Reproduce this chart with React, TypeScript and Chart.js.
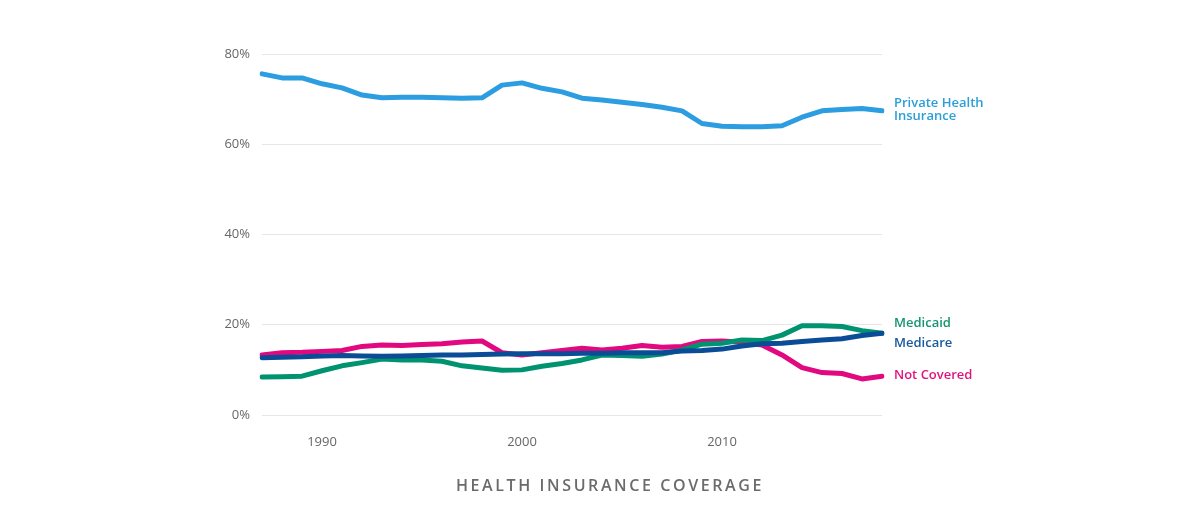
import React, { useEffect, useRef } from "react";
import { Chart, registerables } from "chart.js";

Chart.register(...registerables);

const years: string[] = [];
for (let y = 1987; y <= 2018; y++) years.push(String(y));

const privateHealth = [75.6, 74.7, 74.7, 73.4, 72.5, 70.9, 70.3, 70.4, 70.4, 70.3, 70.2, 70.3, 73.1, 73.6, 72.4, 71.6, 70.2, 69.8, 69.3, 68.8, 68.2, 67.4, 64.6, 64.0, 63.9, 63.9, 64.1, 66.0, 67.4, 67.7, 67.9, 67.4];
const medicaid = [8.4, 8.5, 8.6, 9.8, 10.9, 11.6, 12.4, 12.2, 12.2, 11.9, 10.9, 10.4, 9.9, 10.0, 10.8, 11.4, 12.2, 13.3, 13.2, 13.0, 13.5, 14.4, 15.7, 15.9, 16.6, 16.5, 17.7, 19.8, 19.8, 19.6, 18.7, 18.1];
const medicare = [12.7, 12.8, 12.9, 13.1, 13.2, 13.1, 13.0, 13.1, 13.2, 13.3, 13.3, 13.4, 13.5, 13.6, 13.6, 13.6, 13.7, 13.7, 13.8, 13.8, 13.8, 14.2, 14.3, 14.6, 15.3, 15.8, 15.9, 16.3, 16.6, 16.9, 17.6, 18.1];
const notCovered = [13.3, 13.8, 13.9, 14.1, 14.3, 15.2, 15.5, 15.4, 15.6, 15.8, 16.2, 16.4, 13.8, 13.3, 13.8, 14.3, 14.8, 14.4, 14.8, 15.4, 15.0, 15.2, 16.3, 16.4, 16.1, 15.5, 13.3, 10.5, 9.4, 9.2, 8.0, 8.6];

const yTicks = [0, 20, 40, 60, 80];
const xTickYears = ["1990", "2000", "2010"];
const chartTitle = "HEALTH INSURANCE COVERAGE";

const seriesLabels = [
  { lines: ["Private Health", "Insurance"], at: [69.0, 66.1], color: "#2a9fd8" },
  { lines: ["Medicaid"], at: [20.3], color: "#16956f" },
  { lines: ["Medicare"], at: [15.9], color: "#1a5aa0" },
  { lines: ["Not Covered"], at: [8.8], color: "#e0147f" },
];

const FONT = "'Open Sans', 'Noto Sans', sans-serif";

const endLabels = {
  id: "endLabels",
  afterDraw(chart: any) {
    const { ctx, chartArea, scales } = chart;
    ctx.save();
    ctx.font = `600 13px ${FONT}`;
    ctx.textAlign = "left";
    ctx.textBaseline = "middle";
    seriesLabels.forEach((s) => {
      ctx.fillStyle = s.color;
      s.lines.forEach((t, i) => {
        ctx.fillText(t, chartArea.right + 12, scales.y.getPixelForValue(s.at[i]));
      });
    });
    ctx.font = `600 16px ${FONT}`;
    ctx.fillStyle = "#6b6b6b";
    ctx.textAlign = "center";
    (ctx as any).letterSpacing = "2.6px";
    ctx.fillText(chartTitle, 602, 478);
    ctx.restore();
  },
};

export default function App() {
  const ref = useRef<HTMLCanvasElement | null>(null);
  useEffect(() => {
    if (!ref.current) return;
    const common = { borderWidth: 5, pointRadius: 0, tension: 0, borderJoinStyle: "round" as const, borderCapStyle: "round" as const, fill: false };
    const chart = new Chart(ref.current, {
      type: "line",
      data: {
        labels: years,
        datasets: [
          { label: "Medicare", data: medicare, borderColor: "#0b4c97", ...common },
          { label: "Medicaid", data: medicaid, borderColor: "#009370", ...common },
          { label: "Not Covered", data: notCovered, borderColor: "#e2087f", ...common },
          { label: "Private Health Insurance", data: privateHealth, borderColor: "#2b9de0", ...common },
        ],
      },
      options: {
        animation: false,
        responsive: false,
        layout: { padding: { left: 194, right: 307, top: 46, bottom: 53 } },
        plugins: { legend: { display: false }, tooltip: { enabled: false }, title: { display: false } },
        scales: {
          x: {
            type: "category",
            offset: false,
            grid: { display: false },
            border: { display: false },
            ticks: {
              autoSkip: false,
              maxRotation: 0,
              padding: 11,
              color: "#666",
              font: { family: FONT, size: 13 },
              callback: function (this: any, v: any) {
                const l = years[v as number];
                return xTickYears.includes(l) ? l : "";
              },
            },
            afterFit: (s: any) => { s.height = 40; },
          },
          y: {
            min: 0,
            max: 80,
            afterBuildTicks: (s: any) => { s.ticks = yTicks.map((v) => ({ value: v })); },
            grid: { color: "#e6e6e6", lineWidth: 1, drawTicks: false },
            border: { display: false },
            ticks: {
              padding: 12,
              color: "#666",
              font: { family: FONT, size: 13 },
              callback: (v: any) => `${v}%`,
            },
            afterFit: (s: any) => { s.width = 60; },
          },
        },
      },
      plugins: [endLabels],
    });
    return () => chart.destroy();
  }, []);
  return (
    <div style={{ width: 1181, height: 500 }}>
      <canvas ref={ref} width={1181} height={500} style={{ display: "block" }} />
    </div>
  );
}
